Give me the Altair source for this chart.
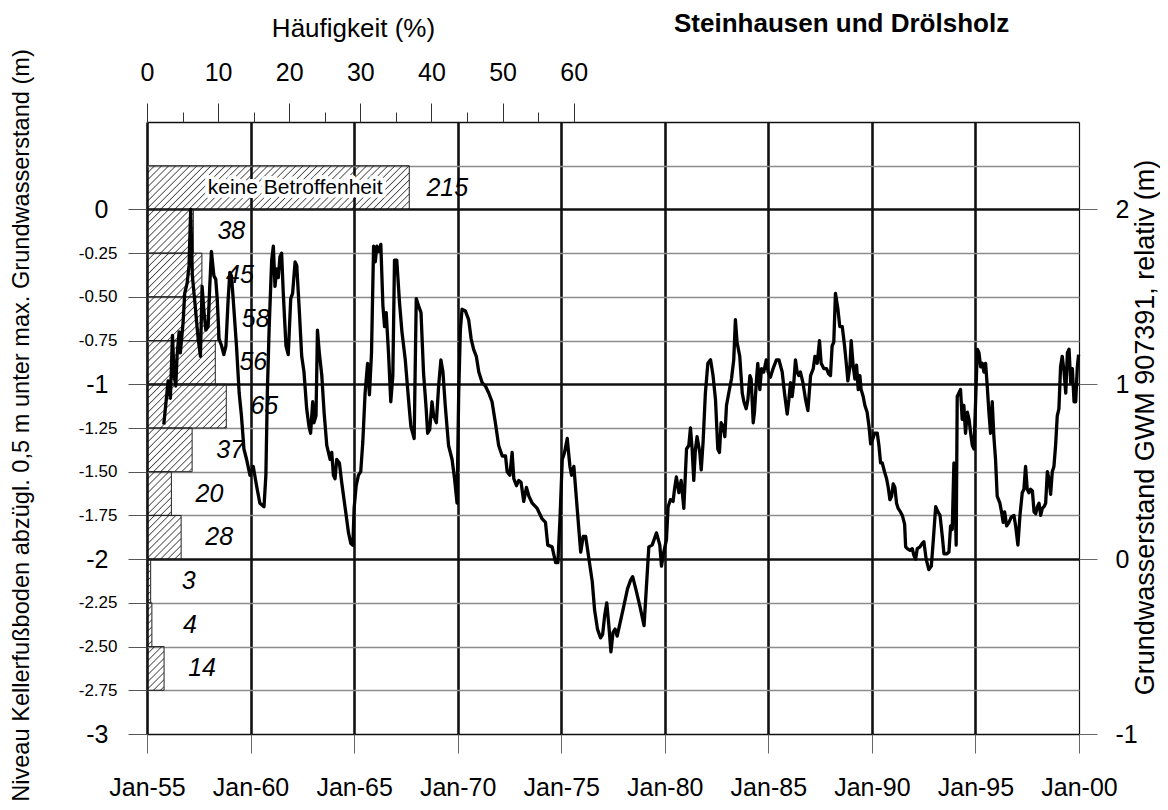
import base64
import altair as alt
import pandas as pd

# ---------------- histogram (Häufigkeit) ----------------
class_upper = [0.25, 0.0, -0.25, -0.5, -0.75, -1.0, -1.25, -1.5, -1.75, -2.0, -2.25, -2.5]
class_lower = [0.0, -0.25, -0.5, -0.75, -1.0, -1.25, -1.5, -1.75, -2.0, -2.25, -2.5, -2.75]
counts = [215, 38, 45, 58, 56, 65, 37, 20, 28, 3, 4, 14]
class_names = ["keine Betroffenheit", "", "", "", "", "", "", "", "", "", "", ""]

# ---------------- groundwater level GWM 907391 (relative, m) ----------------
years = [
    1955.81, 1956.02, 1956.13, 1956.23, 1956.31, 1956.39, 1956.45, 1956.55, 1956.61, 1956.74,
    1956.82, 1956.94, 1957.03, 1957.11, 1957.19, 1957.31, 1957.47, 1957.58, 1957.66, 1957.74,
    1957.84, 1957.95, 1958.03, 1958.11, 1958.23, 1958.32, 1958.39, 1958.48, 1958.60, 1958.71,
    1958.81, 1958.92, 1959.00, 1959.08, 1959.16, 1959.32, 1959.45, 1959.56, 1959.68, 1959.81,
    1959.97, 1960.13, 1960.29, 1960.45, 1960.65, 1960.74, 1960.81, 1960.90, 1961.02, 1961.10,
    1961.18, 1961.26, 1961.34, 1961.42, 1961.50, 1961.58, 1961.71, 1961.82, 1961.94, 1962.03,
    1962.15, 1962.23, 1962.35, 1962.47, 1962.58, 1962.71, 1962.82, 1962.90, 1963.00, 1963.06,
    1963.16, 1963.23, 1963.32, 1963.44, 1963.55, 1963.68, 1963.84, 1963.92, 1964.00, 1964.08,
    1964.16, 1964.29, 1964.40, 1964.56, 1964.73, 1964.84, 1964.94, 1965.00, 1965.10, 1965.21,
    1965.32, 1965.42, 1965.53, 1965.65, 1965.74, 1965.84, 1965.94, 1966.02, 1966.10, 1966.18,
    1966.29, 1966.39, 1966.47, 1966.55, 1966.66, 1966.77, 1966.87, 1966.95, 1967.06, 1967.19,
    1967.31, 1967.47, 1967.63, 1967.74, 1967.90, 1968.00, 1968.11, 1968.23, 1968.35, 1968.48,
    1968.55, 1968.65, 1968.76, 1968.84, 1968.97, 1969.08, 1969.19, 1969.29, 1969.40, 1969.56,
    1969.73, 1969.85, 1969.97, 1970.05, 1970.13, 1970.21, 1970.37, 1970.53, 1970.65, 1970.77,
    1970.90, 1971.02, 1971.18, 1971.34, 1971.50, 1971.66, 1971.82, 1971.98, 1972.15, 1972.31,
    1972.39, 1972.52, 1972.63, 1972.71, 1972.84, 1972.95, 1973.06, 1973.19, 1973.32, 1973.44,
    1973.60, 1973.84, 1974.08, 1974.24, 1974.35, 1974.56, 1974.73, 1974.84, 1974.94, 1975.05,
    1975.16, 1975.29, 1975.42, 1975.50, 1975.61, 1975.77, 1975.94, 1976.06, 1976.18, 1976.34,
    1976.50, 1976.61, 1976.75, 1976.90, 1977.00, 1977.10, 1977.20, 1977.30, 1977.40, 1977.50,
    1977.60, 1977.70, 1977.85, 1978.00, 1978.20, 1978.35, 1978.45, 1978.60, 1978.80, 1979.00,
    1979.23, 1979.39, 1979.60, 1979.76, 1979.84, 1979.95, 1980.08, 1980.16, 1980.27, 1980.40,
    1980.47, 1980.56, 1980.68, 1980.79, 1980.92, 1981.05, 1981.16, 1981.24, 1981.32, 1981.40,
    1981.48, 1981.56, 1981.69, 1981.76, 1981.85, 1981.96, 1982.08, 1982.21, 1982.33, 1982.45,
    1982.56, 1982.64, 1982.72, 1982.82, 1982.90, 1982.98, 1983.09, 1983.22, 1983.33, 1983.41,
    1983.49, 1983.62, 1983.74, 1983.82, 1983.93, 1984.01, 1984.11, 1984.17, 1984.27, 1984.33,
    1984.43, 1984.49, 1984.59, 1984.67, 1984.78, 1984.90, 1984.99, 1985.10, 1985.23, 1985.39,
    1985.51, 1985.67, 1985.78, 1985.91, 1985.99, 1986.07, 1986.15, 1986.23, 1986.31, 1986.39,
    1986.47, 1986.55, 1986.67, 1986.80, 1986.91, 1987.04, 1987.17, 1987.25, 1987.36, 1987.47,
    1987.55, 1987.68, 1987.81, 1987.91, 1988.00, 1988.08, 1988.16, 1988.24, 1988.36, 1988.45,
    1988.57, 1988.68, 1988.78, 1988.84, 1988.94, 1989.00, 1989.10, 1989.18, 1989.26, 1989.34,
    1989.42, 1989.48, 1989.58, 1989.66, 1989.77, 1989.86, 1989.94, 1990.05, 1990.13, 1990.26,
    1990.34, 1990.42, 1990.50, 1990.61, 1990.71, 1990.79, 1990.87, 1990.95, 1991.03, 1991.11,
    1991.19, 1991.27, 1991.38, 1991.47, 1991.58, 1991.63, 1991.71, 1991.84, 1991.95, 1992.03,
    1992.11, 1992.19, 1992.32, 1992.43, 1992.51, 1992.62, 1992.75, 1992.87, 1992.96, 1993.08,
    1993.19, 1993.29, 1993.40, 1993.48, 1993.61, 1993.72, 1993.80, 1993.88, 1993.96, 1994.01,
    1994.07, 1994.12, 1994.20, 1994.28, 1994.36, 1994.44, 1994.52, 1994.61, 1994.69, 1994.77,
    1994.85, 1994.93, 1995.01, 1995.09, 1995.17, 1995.25, 1995.33, 1995.41, 1995.49, 1995.57,
    1995.65, 1995.73, 1995.81, 1995.89, 1995.97, 1996.05, 1996.18, 1996.26, 1996.34, 1996.41,
    1996.51, 1996.62, 1996.73, 1996.86, 1996.94, 1997.05, 1997.15, 1997.26, 1997.34, 1997.42,
    1997.50, 1997.58, 1997.66, 1997.75, 1997.83, 1997.91, 1997.99, 1998.07, 1998.15, 1998.23,
    1998.31, 1998.39, 1998.47, 1998.55, 1998.63, 1998.71, 1998.79, 1998.87, 1998.95, 1999.03,
    1999.11, 1999.19, 1999.28, 1999.36, 1999.44, 1999.52, 1999.60, 1999.68, 1999.76, 1999.84,
    1999.92, 1999.98,
]
levels = [
    0.77, 1.02, 0.92, 1.28, 1.05, 0.99, 1.16, 1.30, 1.18, 1.35,
    1.52, 1.58, 1.68, 2.00, 1.62, 1.47, 1.26, 1.16, 1.56, 1.43,
    1.31, 1.33, 1.56, 1.76, 1.62, 1.60, 1.49, 1.26, 1.22, 1.17,
    1.22, 1.49, 1.64, 1.62, 1.49, 1.22, 0.95, 0.82, 0.63, 0.57,
    0.48, 0.53, 0.42, 0.32, 0.30, 0.48, 0.95, 1.33, 1.71, 1.79,
    1.56, 1.66, 1.61, 1.73, 1.75, 1.52, 1.22, 1.17, 1.49, 1.52,
    1.70, 1.68, 1.43, 1.16, 1.07, 0.86, 0.76, 0.72, 0.90, 0.78,
    0.82, 1.31, 1.18, 1.05, 0.84, 0.65, 0.57, 0.61, 0.48, 0.46,
    0.57, 0.55, 0.44, 0.30, 0.15, 0.09, 0.08, 0.29, 0.42, 0.48,
    0.50, 0.67, 0.95, 1.12, 0.94, 1.18, 1.79, 1.70, 1.79, 1.76,
    1.80, 1.45, 1.33, 1.41, 1.18, 0.90, 1.05, 1.71, 1.71, 1.47,
    1.30, 1.14, 0.91, 0.76, 0.69, 1.49, 1.45, 1.41, 1.07, 0.86,
    0.72, 0.74, 0.90, 0.82, 0.78, 0.99, 1.14, 1.07, 0.88, 0.65,
    0.57, 0.46, 0.32, 0.95, 1.31, 1.43, 1.42, 1.37, 1.26, 1.20,
    1.16, 1.07, 1.01, 0.99, 0.95, 0.90, 0.78, 0.65, 0.59, 0.59,
    0.50, 0.48, 0.61, 0.46, 0.42, 0.45, 0.44, 0.33, 0.41, 0.36,
    0.32, 0.29, 0.23, 0.21, 0.08, 0.07, -0.02, -0.02, 0.23, 0.57,
    0.61, 0.69, 0.53, 0.48, 0.53, 0.29, 0.04, 0.13, 0.13, 0.00,
    -0.13, -0.29, -0.40, -0.45, -0.43, -0.32, -0.25, -0.38, -0.53, -0.42,
    -0.40, -0.44, -0.36, -0.28, -0.17, -0.12, -0.10, -0.17, -0.27, -0.38,
    0.07, 0.08, 0.15, 0.08, -0.04, 0.04, 0.11, 0.30, 0.34, 0.33,
    0.40, 0.47, 0.38, 0.45, 0.29, 0.63, 0.65, 0.75, 0.63, 0.45,
    0.63, 0.70, 0.61, 0.51, 0.67, 0.95, 1.12, 1.14, 1.05, 0.91,
    0.63, 0.61, 0.78, 0.76, 0.70, 0.88, 0.95, 1.03, 1.14, 1.37,
    1.24, 1.16, 0.95, 0.90, 0.86, 0.91, 1.05, 1.03, 0.78, 0.84,
    1.03, 1.12, 0.97, 1.09, 1.07, 1.14, 1.07, 1.04, 1.09, 1.14,
    1.14, 1.07, 0.95, 0.83, 0.91, 1.01, 0.93, 1.01, 1.14, 1.07,
    1.05, 1.07, 1.01, 0.91, 0.85, 1.05, 1.09, 1.16, 1.12, 1.25,
    1.12, 1.09, 1.09, 1.06, 1.05, 1.22, 1.24, 1.52, 1.43, 1.33,
    1.33, 1.22, 1.10, 1.02, 1.10, 1.25, 1.10, 1.03, 1.11, 0.97,
    1.05, 0.97, 0.93, 0.88, 0.84, 0.76, 0.66, 0.69, 0.72, 0.72,
    0.65, 0.55, 0.55, 0.50, 0.46, 0.41, 0.34, 0.36, 0.43, 0.41,
    0.32, 0.29, 0.27, 0.25, 0.20, 0.07, 0.06, 0.05, 0.06, 0.02,
    0.00, 0.06, 0.07, 0.09, 0.10, 0.00, -0.06, -0.04, 0.10, 0.30,
    0.27, 0.25, 0.13, 0.03, 0.03, 0.04, 0.19, 0.17, 0.55, 0.38,
    0.08, 0.93, 0.95, 0.97, 0.80, 0.88, 0.72, 0.84, 0.80, 0.72,
    0.65, 0.63, 0.91, 1.20, 1.18, 1.10, 1.12, 1.07, 1.12, 0.99,
    0.84, 0.72, 0.90, 0.70, 0.57, 0.36, 0.32, 0.27, 0.21, 0.27,
    0.19, 0.21, 0.24, 0.25, 0.19, 0.08, 0.25, 0.38, 0.40, 0.53,
    0.40, 0.38, 0.40, 0.39, 0.27, 0.26, 0.30, 0.32, 0.25, 0.29,
    0.30, 0.32, 0.50, 0.46, 0.37, 0.50, 0.53, 0.65, 0.82, 0.86,
    1.10, 1.16, 1.07, 0.95, 1.18, 1.20, 1.01, 1.09, 0.90, 0.90,
    1.10, 1.17,
]

# axis tick values
pct_ticks = [0, 5, 10, 15, 20, 25, 30, 35, 40, 45, 50, 55, 60]
left_ticks = [0.5, 0.25, 0, -0.25, -0.5, -0.75, -1, -1.25, -1.5, -1.75, -2, -2.25, -2.5, -2.75, -3]
right_ticks = [-1, 0, 1, 2]
year_ticks = [1955, 1960, 1965, 1970, 1975, 1980, 1985, 1990, 1995, 2000]

FONT = "Liberation Sans"

hist_df = pd.DataFrame({"upper": class_upper, "lower": class_lower,
                        "count": counts, "name": class_names})
line_df = pd.DataFrame({"year": years, "level": levels})

hatch_svg = (
    "<svg xmlns='http://www.w3.org/2000/svg' width='100%' height='100%'>"
    "<defs><pattern id='h' width='5' height='5' patternUnits='userSpaceOnUse' "
    "patternTransform='rotate(45)'>"
    "<line x1='0' y1='0' x2='0' y2='5' stroke='#000' stroke-width='1.2'/></pattern></defs>"
    "<rect width='100%' height='100%' fill='url(#h)'/></svg>"
)
HATCH = "data:image/svg+xml;base64," + base64.b64encode(hatch_svg.encode()).decode()

pct_scale = alt.Scale(domain=[0, 131.05], nice=False, zero=False)
left_scale = alt.Scale(domain=[-3, 0.5], nice=False, zero=False)


def pct_axis():
    return alt.Axis(
        orient="top", values=pct_ticks,
        labelExpr="datum.value % 10 == 0 ? datum.label : ''",
        tickSize={"condition": {"test": "datum.value % 10 == 0", "value": 19}, "value": 10},
        tickColor="#333", tickWidth=1, domain=False, grid=False,
        labelFontSize=25, labelColor="black", labelPadding=31, labelBaseline="middle",
        labelFlush=False, labelOverlap=False, labelFont=FONT,
        title="Häufigkeit (%)", titleFontSize=26, titleFontWeight="normal",
        titleFont=FONT, titleColor="black",
        titleX=206, titleY=-94, titleAlign="center", titleBaseline="middle", titleAngle=0,
    )


def left_axis():
    return alt.Axis(
        orient="left", values=left_ticks,
        labelExpr=(
            "datum.value > 0.01 ? '' : (datum.value == 0 ? '0' : '-' + "
            "(abs(datum.value) % 1 == 0 ? format(abs(datum.value), 'd') : format(abs(datum.value), '.2f')))"
        ),
        labelFontSize={"condition": {"test": "datum.value % 1 == 0", "value": 25}, "value": 17},
        labelPadding={"condition": {"test": "datum.value % 1 == 0", "value": 20}, "value": 11},
        labelColor="black", labelFont=FONT, labelBaseline="middle",
        tickSize=19,
        tickOpacity={"condition": {"test": "datum.value > 0.01", "value": 0}, "value": 1},
        tickColor="#555", tickWidth=1, domain=False,
        grid=True,
        gridColor={"condition": {"test": "datum.value % 1 == 0 || datum.value == 0.5", "value": "#111"},
                   "value": "#8c8c8c"},
        gridWidth={"condition": {"test": "datum.value == 0 || datum.value == -1 || datum.value == -2",
                                 "value": 2.6}, "value": 1.3},
        labelOverlap=False, labelFlush=False,
        title="Niveau Kellerfußboden abzügl. 0,5 m unter max. Grundwasserstand (m)",
        titleFontSize=23.6, titleFontWeight="normal", titleFont=FONT, titleColor="black",
        titleAngle=270, titleX=-126, titleY=303, titleAlign="center", titleBaseline="middle",
    )


base = (
    alt.Chart(hist_df)
    .transform_joinaggregate(total="sum(count)")
    .transform_calculate(
        pct="100 * datum.count / datum.total",
        zero="0",
        mid="(datum.upper + datum.lower) / 2",
        halfpct="50 * datum.count / datum.total",
    )
)

hatch = base.mark_image(aspect=False).encode(
    x=alt.X("zero:Q", scale=pct_scale, axis=pct_axis()),
    x2="pct:Q",
    y=alt.Y("upper:Q", scale=left_scale, axis=left_axis()),
    y2="lower:Q",
    url=alt.value(HATCH),
)
outline = base.mark_bar(fillOpacity=0, stroke="#222", strokeWidth=1).encode(
    x=alt.X("zero:Q", scale=pct_scale, axis=pct_axis()),
    x2="pct:Q",
    y=alt.Y("upper:Q", scale=left_scale, axis=left_axis()),
    y2="lower:Q",
)
count_text = base.mark_text(
    font=FONT, fontSize=25, fontStyle="italic", align="center", baseline="middle", dx=38,
    color="black",
).encode(
    x=alt.X("pct:Q", scale=pct_scale, axis=pct_axis()),
    y=alt.Y("mid:Q", scale=left_scale, axis=left_axis()),
    text="count:Q",
)
name_halo = base.transform_filter("datum.name != ''").mark_text(
    font=FONT, fontSize=21, align="center", baseline="middle", dx=17,
    stroke="white", strokeWidth=8, color="white", strokeJoin="round",
).encode(
    x=alt.X("halfpct:Q", scale=pct_scale, axis=pct_axis()),
    y=alt.Y("mid:Q", scale=left_scale, axis=left_axis()),
    text="name:N",
)
name_text = base.transform_filter("datum.name != ''").mark_text(
    font=FONT, fontSize=21, align="center", baseline="middle", dx=17, color="black",
).encode(
    x=alt.X("halfpct:Q", scale=pct_scale, axis=pct_axis()),
    y=alt.Y("mid:Q", scale=left_scale, axis=left_axis()),
    text="name:N",
)

hist_layer = alt.layer(hatch, outline, name_halo, name_text, count_text)

year_axis = alt.Axis(
    orient="bottom", values=year_ticks,
    labelExpr="'Jan-' + (datum.value % 100 < 10 ? '0' : '') + format(datum.value % 100, 'd')",
    tickSize=19, tickColor="#666", tickWidth=1, domain=False,
    grid=True, gridColor="#111",
    gridWidth={"condition": {"test": "datum.value == 2000", "value": 1.2}, "value": 2.6},
    labelFontSize=25, labelColor="black", labelFont=FONT, labelPadding=34,
    labelBaseline="middle", labelFlush=False, labelOverlap=False, title=None,
)
right_axis = alt.Axis(
    orient="right", values=right_ticks,
    labelExpr="datum.value < 0 ? '-' + format(abs(datum.value), 'd') : format(datum.value, 'd')",
    tickSize=18, tickColor="#666", tickWidth=1, domain=False, grid=False,
    labelFontSize=25, labelColor="black", labelFont=FONT, labelPadding=18,
    labelBaseline="middle", labelFlush=False, labelOverlap=False,
    title="Grundwasserstand GWM 907391, relativ (m)",
    titleFontSize=27, titleFontWeight="normal", titleFont=FONT, titleColor="black",
    titleAngle=270, titleX=66, titleY=305, titleAlign="center", titleBaseline="middle",
)

line = alt.Chart(line_df).mark_line(color="black", strokeWidth=3.3, strokeJoin="round").encode(
    x=alt.X("year:Q", scale=alt.Scale(domain=[1955, 2000], nice=False, zero=False), axis=year_axis),
    y=alt.Y("level:Q", scale=alt.Scale(domain=[-1, 2.5], nice=False, zero=False), axis=right_axis),
    order="year:Q",
)

chart = (
    alt.layer(hist_layer, line)
    .resolve_scale(x="independent", y="independent")
    .properties(
        width=932, height=612,
        autosize=alt.AutoSizeParams(type="none"),
        padding={"left": 139, "top": 114, "right": 81, "bottom": 67},
        title=alt.TitleParams(
            "Steinhausen und Drölsholz", font=FONT, fontSize=26, fontWeight="bold",
            color="black", anchor="start", dx=527, dy=35, offset=0, baseline="middle",
            frame="group",
        ),
    )
    .configure_view(stroke=None)
)

chart.save("out.html", embed_options={"renderer": "svg", "actions": False})
